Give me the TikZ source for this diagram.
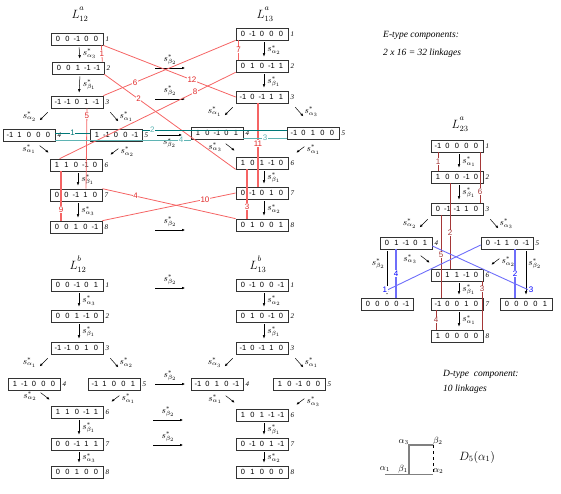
\documentclass[tikz,border=0pt]{standalone}
\usepackage{fontspec}
\setmainfont{Liberation Serif}
\setsansfont{Liberation Sans}
\usepackage{xcolor}
\usetikzlibrary{arrows.meta,calc}

\definecolor{lred}{RGB}{245,100,100}
\definecolor{tred}{RGB}{225,40,40}
\definecolor{dred}{RGB}{165,55,55}
\definecolor{dteal}{RGB}{0,120,120}
\definecolor{lteal}{RGB}{95,180,180}
\definecolor{lblue}{RGB}{110,110,250}

% one weight vector, five fixed-width entries
\newcommand{\vv}[5]{\makebox[9.5pt]{#1}\makebox[9.5pt]{#2}\makebox[9.5pt]{#3}\makebox[9.5pt]{#4}\makebox[9.5pt]{#5}}
% title of a column: L with a raised upper index
\newcommand{\lad}[2]{$L^{\raisebox{4pt}{$\scriptstyle #1$}}_{#2}$}

\begin{document}
\begin{tikzpicture}[x=1pt, y=-1pt,
    every node/.style={font=\small},
    vec/.style={
        rectangle, draw=black!80, line width=0.7pt, minimum width=52pt,
        minimum height=12pt, inner sep=0pt, font=\sffamily\fontsize{7.5}{8}\selectfont
    },
    idx/.style={anchor=west, inner sep=0pt, font=\itshape\fontsize{7}{8}\selectfont},
    op/.style={inner sep=0pt, font=\fontsize{9}{10}\selectfont},
    ttl/.style={inner sep=0pt, font=\fontsize{12}{13}\selectfont},
    arr/.style={-{Latex[length=3.5pt,width=2.6pt]}, line width=0.5pt, shorten <=2pt, shorten >=3pt},
    darr/.style={-{Latex[length=3pt,width=2.6pt]}, line width=0.5pt},
    rl/.style={draw=lred, line width=0.8pt},
    dl/.style={draw=dred, line width=0.6pt},
    bl/.style={draw=lblue, line width=0.9pt},
    tl/.style={line width=0.9pt},
    num/.style={fill=white, inner sep=0.5pt, font=\sffamily\fontsize{8}{9}\selectfont},
    note/.style={anchor=west, inner sep=0pt, font=\itshape\fontsize{9.5}{10}\selectfont}
]
\useasboundingbox (0,0) rectangle (561,493);

% down arrow between two boxes of a column
\newcommand{\dn}[3]{%
  \draw[arr] ([xshift=2pt]#1.south) -- node[op, right=3pt] (#1-o) {$s^*_{#3}$} ([xshift=2pt]#2.north);}
% the four slanted arrows round boxes 4 and 5
\newcommand{\sides}[5]{%
  \draw[darr] ([shift={(-3,4)}]#1-3.south west) -- node[op, left=7pt] (#1-o34) {$s^*_{#2}$} ++(-8,8);
  \draw[darr] ([shift={(7,4)}]#1-3.south east) -- node[op, right=5pt] (#1-o35) {$s^*_{#3}$} ++(8,9);
  \draw[darr] ([shift={(-10,-13)}]#1-6.north west) -- node[op, left=8pt] (#1-o46) {$s^*_{#4}$} ++(9,7);
  \draw[darr] ([shift={(16,-10)}]#1-6.north east) -- node[op, right=6pt] (#1-o56) {$s^*_{#5}$} ++(-8,6);}

% --- L12^a
\node[ttl] (t-a12) at (80,14) {\lad{a}{12}};
\foreach \n/\x/\y/\v in {%
    1/77/39/{\vv{0}{0}{-1}{0}{0}}, 2/78/68/{\vv{0}{0}{1}{-1}{-1}},
    3/77/102/{\vv{-1}{-1}{0}{1}{-1}}, 4/29/135/{\vv{-1}{1}{0}{0}{0}},
    5/116/135/{\vv{1}{-1}{0}{0}{-1}}, 6/76/165/{\vv{1}{1}{0}{-1}{0}},
    7/76/195/{\vv{0}{0}{-1}{1}{0}}, 8/76/227/{\vv{0}{0}{1}{0}{-1}}} {
  \node[vec] (a12-\n) at (\x,\y) {\v};
  \node[idx] (a12-\n-i) at ([xshift=2pt]a12-\n.east) {\n};
}
\dn{a12-1}{a12-2}{\alpha_3}
\dn{a12-2}{a12-3}{\beta_1}
\dn{a12-6}{a12-7}{\beta_1}
\dn{a12-7}{a12-8}{\alpha_3}
\sides{a12}{\alpha_2}{\alpha_1}{\alpha_1}{\alpha_2}

% --- L13^a
\node[ttl] (t-a13) at (265,14) {\lad{a}{13}};
\foreach \n/\x/\y/\v in {%
    1/262/34/{\vv{0}{-1}{0}{0}{0}}, 2/262/66/{\vv{0}{1}{0}{-1}{1}},
    3/262/97/{\vv{-1}{0}{-1}{1}{1}}, 4/217/133/{\vv{1}{0}{-1}{0}{1}},
    5/313/133/{\vv{-1}{0}{1}{0}{0}}, 6/262/163/{\vv{1}{0}{1}{-1}{0}},
    7/262/193/{\vv{0}{-1}{0}{1}{0}}, 8/262/225/{\vv{0}{1}{0}{0}{1}}} {
  \node[vec] (a13-\n) at (\x,\y) {\v};
  \node[idx] (a13-\n-i) at ([xshift=2pt]a13-\n.east) {\n};
}
\dn{a13-1}{a13-2}{\alpha_2}
\dn{a13-2}{a13-3}{\beta_1}
\dn{a13-6}{a13-7}{\beta_1}
\dn{a13-7}{a13-8}{\alpha_2}
\sides{a13}{\alpha_1}{\alpha_3}{\alpha_3}{\alpha_1}

% s_beta2 maps from L12^a to L13^a
\foreach \i/\x/\y in {1/155/68, 2/155/99, 4/155/230} {
  \coordinate (h\i-s) at (\x,\y);
  \coordinate (h\i-e) at (\x+30,\y);
  \draw[darr] (h\i-s) -- node[op, above=3pt] (h\i-o) {$s^*_{\beta_2}$} (h\i-e);
}
\coordinate (h3-s) at (157,135);
\coordinate (h3-e) at (182,135);
\draw[darr] (h3-s) -- node[op, below=3pt] (h3-o) {$s^*_{\beta_2}$} (h3-e);

% red linkages
\draw[rl] ([xshift=-2pt]a12-1.south east) -- node[num, text=tred] (k1) {1} ([xshift=-2pt]a12-2.north east);
\draw[rl] (a12-2.south east) -- node[num, text=tred, pos=0.26] (k2) {2} (a13-6.south west);
\draw[rl, line width=1.4pt] ([xshift=-15pt]a13-6.south) -- node[num, text=tred, pos=0.76] (k3) {3} ([xshift=-15pt]a13-8.north);
\draw[rl] (a12-7.north east) -- node[num, text=tred, pos=0.25] (k4) {4} (a13-8.north west);
\draw[rl] ([xshift=10pt]a12-3.south) -- node[num, text=tred, pos=0.09] (k5) {5} ([xshift=10pt]a12-7.north);
\draw[rl] (a12-3.north east) -- node[num, text=tred, pos=0.24] (k6) {6} (a13-1.south west);
\draw[rl] ([xshift=3pt]a13-1.south west) -- node[num, text=tred] (k7) {7} ([xshift=3pt]a13-2.north west);
\draw[rl] ([xshift=10pt]a12-6.north west) -- node[num, text=tred, pos=0.77] (k8) {8} (a13-2.south west);
\draw[rl, line width=1.4pt] ([xshift=-15pt]a12-6.south) -- node[num, text=tred, pos=0.78] (k9) {9} ([xshift=-15pt]a12-8.north);
\draw[rl] (a12-8.north east) -- node[num, text=tred, pos=0.77] (k10) {10} (a13-7.west);
\draw[rl, line width=1.6pt] ([xshift=-4pt]a13-3.south) -- node[num, text=tred, pos=0.48] (k11) {11} ([xshift=-4pt]a13-7.north);
\draw[rl] (a12-1.south east) -- node[num, text=tred, pos=0.67] (k12) {12} (a13-3.west);

% teal linkages
\draw[tl, draw=dteal] ([yshift=2pt]a12-4.east) -- node[num, text=dteal] (m1) {1} ([yshift=2pt]a12-5.west);
\draw[tl, draw=dteal] ([yshift=5pt]a12-5.east) -- node[num, text=lteal, pos=0.07] (m2) {2} ([yshift=5pt]a12-5.east -| a13-5.west);
\draw[tl, draw=lteal] ([yshift=-5pt]a13-4.east) -- node[num, text=lteal] (m3) {3} ([yshift=-5pt]a13-5.west);
\draw[tl, draw=lteal] ([yshift=-5pt]a12-4.east) -- node[num, text=lteal, pos=0.93] (m4) {4} ([yshift=-5pt]a12-4.east -| a13-4.west);

% --- notes
\node[note] (e-txt) at (383,35) {E-type components:};
\node[note] (e-num) at (383,53) {2 x 16 = 32 linkages};

% --- L23^a
\node[ttl] (t-a23) at (460,124) {\lad{a}{23}};
\foreach \n/\x/\y/\v in {%
    1/457/146/{\vv{-1}{0}{0}{0}{0}}, 2/457/177/{\vv{1}{0}{0}{-1}{0}},
    3/457/209/{\vv{0}{-1}{-1}{1}{0}}, 4/406/243/{\vv{0}{1}{-1}{0}{1}},
    5/507/243/{\vv{0}{-1}{1}{0}{-1}}, 6/457/275/{\vv{0}{1}{1}{-1}{0}},
    7/457/304/{\vv{-1}{0}{0}{1}{0}}, 8/457/336/{\vv{1}{0}{0}{0}{0}}} {
  \node[vec] (a23-\n) at (\x,\y) {\v};
  \node[idx] (a23-\n-i) at ([xshift=2pt]a23-\n.east) {\n};
}
\node[vec] (a23-l) at (387,304) {\vv{0}{0}{0}{0}{-1}};
\node[vec] (a23-r) at (526,304) {\vv{0}{0}{0}{0}{1}};
\dn{a23-1}{a23-2}{\alpha_1}
\dn{a23-2}{a23-3}{\beta_1}
\dn{a23-6}{a23-7}{\beta_1}
\dn{a23-7}{a23-8}{\alpha_1}
\sides{a23}{\alpha_2}{\alpha_3}{\alpha_3}{\alpha_2}
\draw[arr] (a23-4.south -| a23-l) -- node[op, left=2pt, pos=0.3] (a23-ol) {$s^*_{\beta_2}$} (a23-l.north);
\draw[arr] (a23-5.south -| a23-r) -- node[op, right=2pt, pos=0.3] (a23-or) {$s^*_{\beta_2}$} (a23-r.north);

% dark red linkages
\draw[dl] ([xshift=-19pt]a23-1.south) -- node[num, text=dred] (q1) {1} ([xshift=-19pt]a23-2.north);
\draw[dl] ([xshift=-7pt]a23-2.south) -- node[num, text=dred, pos=0.58] (q2) {2} ([xshift=-7pt]a23-6.north);
\draw[dl] ([xshift=25pt]a23-6.south) -- node[num, text=dred, pos=0.16] (q3) {3} ([xshift=25pt]a23-8.north);
\draw[dl] ([xshift=-21pt]a23-7.south) -- node[num, text=dred] (q4) {4} ([xshift=-21pt]a23-8.north);
\draw[dl] ([xshift=-16pt]a23-3.south) -- node[num, text=dred, pos=0.48] (q5) {5} ([xshift=-16pt]a23-7.north);
\draw[dl] ([xshift=23pt]a23-1.south) -- node[num, text=dred, pos=0.78] (q6) {6} ([xshift=23pt]a23-3.north);

% blue linkages
\draw[bl] ([yshift=-2pt]a23-5.west) -- ([shift={(1,-8)}]a23-l.north) node[num, left, text=blue] (p1) {1};
\draw[bl, line width=1.6pt] ([xshift=8pt]a23-5.south) -- node[num, text=blue] (p2) {2} ([xshift=8pt]a23-5.south |- a23-r.north);
\draw[bl] ([yshift=-3pt]a23-4.east) -- ([shift={(2,-8)}]a23-r.north) node[num, right, text=blue] (p3) {3};
\draw[bl, line width=1.6pt] ([xshift=-10pt]a23-4.south) -- node[num, text=blue] (p4) {4} ([xshift=-10pt]a23-4.south |- a23-l.north);

% --- L12^b
\node[ttl] (t-b12) at (78,264) {\lad{b}{12}};
\foreach \n/\x/\y/\v in {%
    1/77/285/{\vv{0}{0}{-1}{0}{1}}, 2/77/316/{\vv{0}{0}{1}{-1}{0}},
    3/77/348/{\vv{-1}{-1}{0}{1}{0}}, 4/34/384/{\vv{1}{-1}{0}{0}{0}},
    5/114/384/{\vv{-1}{1}{0}{0}{1}}, 6/77/412/{\vv{1}{1}{0}{-1}{1}},
    7/77/444/{\vv{0}{0}{-1}{1}{1}}, 8/77/472/{\vv{0}{0}{1}{0}{0}}} {
  \node[vec] (b12-\n) at (\x,\y) {\v};
  \node[idx] (b12-\n-i) at ([xshift=2pt]b12-\n.east) {\n};
}
\dn{b12-1}{b12-2}{\alpha_3}
\dn{b12-2}{b12-3}{\beta_1}
\dn{b12-6}{b12-7}{\beta_1}
\dn{b12-7}{b12-8}{\alpha_3}
\sides{b12}{\alpha_1}{\alpha_2}{\alpha_2}{\alpha_1}

% --- L13^b
\node[ttl] (t-b13) at (258,264) {\lad{b}{13}};
\foreach \n/\x/\y/\v in {%
    1/262/285/{\vv{0}{-1}{0}{0}{-1}}, 2/262/316/{\vv{0}{1}{0}{-1}{0}},
    3/262/348/{\vv{-1}{0}{-1}{1}{0}}, 4/217/384/{\vv{-1}{0}{1}{0}{-1}},
    5/299/384/{\vv{1}{0}{-1}{0}{0}}, 6/262/415/{\vv{1}{0}{1}{-1}{-1}},
    7/262/444/{\vv{0}{-1}{0}{1}{-1}}, 8/262/472/{\vv{0}{1}{0}{0}{0}}} {
  \node[vec] (b13-\n) at (\x,\y) {\v};
  \node[idx] (b13-\n-i) at ([xshift=2pt]b13-\n.east) {\n};
}
\dn{b13-1}{b13-2}{\alpha_2}
\dn{b13-2}{b13-3}{\beta_1}
\dn{b13-6}{b13-7}{\beta_1}
\dn{b13-7}{b13-8}{\alpha_2}
\sides{b13}{\alpha_3}{\alpha_1}{\alpha_1}{\alpha_3}

% s_beta2 maps from L12^b to L13^b
\foreach \i/\x/\y in {5/155/288, 6/155/384, 7/153/420, 8/153/445} {
  \coordinate (h\i-s) at (\x,\y);
  \coordinate (h\i-e) at (\x+30,\y);
  \draw[darr] (h\i-s) -- node[op, above=3pt] (h\i-o) {$s^*_{\beta_2}$} (h\i-e);
}

% --- D-type component
\node[note] (d-txt) at (443,374) {D-type\ \ component:};
\node[note] (d-num) at (443,389) {10 linkages};
\coordinate (d-a1) at (385,474);
\coordinate (d-b1) at (409,474);
\coordinate (d-a2) at (433,474);
\coordinate (d-a3) at (409,445);
\coordinate (d-b2) at (433,445);
\draw[gray, line width=0.6pt] (d-a1) -- (d-a2);
\draw[gray, line width=1.5pt] (d-b1) -- (d-a3) -- (d-b2);
\draw[dashed, line width=1pt] (d-b2) -- (d-a2);
\node[op, above=2pt] (d-la1) at (d-a1) {$\alpha_1$};
\node[op, above left=1pt] (d-lb1) at (d-b1) {$\beta_1$};
\node[op, above right=0pt] (d-la2) at (d-a2) {$\alpha_2$};
\node[op, above left=0pt] (d-la3) at (d-a3) {$\alpha_3$};
\node[op, above right=0pt] (d-lb2) at (d-b2) {$\beta_2$};
\node[ttl] (d-name) at (477,457) {$D_5(\alpha_1)$};
\end{tikzpicture}
\end{document}
